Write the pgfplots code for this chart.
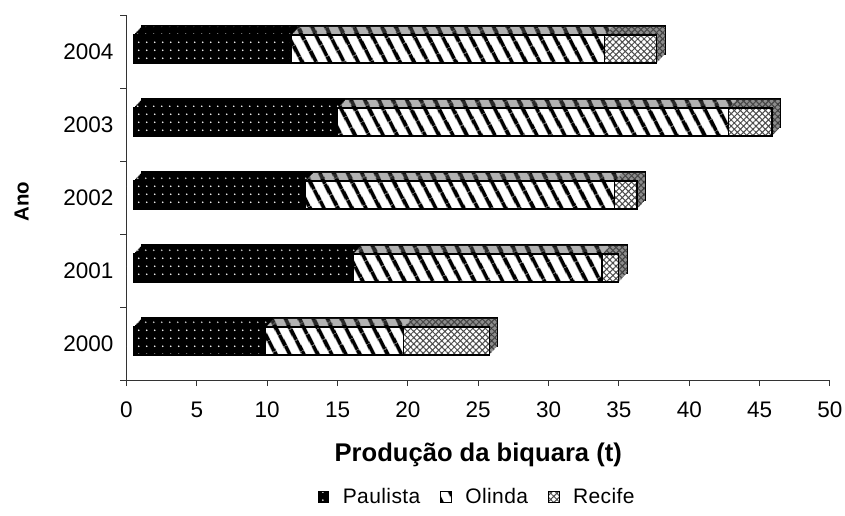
\documentclass[border=0pt]{standalone}
\usepackage{pgfplots}
\pgfplotsset{compat=1.18}
\usepackage{pgfplotstable}
\usepackage{fontspec}
\setmainfont{Liberation Sans}
\usetikzlibrary{patterns,patterns.meta}

% produção da biquara (t) por ano; ano 0 = 2000
\pgfplotstableread{
ano paulista olinda recife
0 9.4 9.8 6.1
1 15.6 17.7 1.2
2 12.2 22.0 1.6
3 14.5 27.8 3.1
4 11.2 22.3 3.7
}\biquara

\tikzset{
  paulista/.style={fill=black, postaction={pattern={Dots[distance=3.85pt,radius=0.45pt]}, pattern color=white}},
  olinda/.style={fill=white, postaction={pattern={Lines[angle=-62,distance=6.4pt,line width=2.1pt]}, pattern color=black}},
  recife/.style={fill=white, postaction={pattern={Hatch[angle=45,distance=2.2pt,line width=0.5pt]}, pattern color=black!70}},
  olindatopo/.style={fill=black!30, postaction={pattern={Lines[angle=-62,distance=6.4pt,line width=2.1pt]}, pattern color=black}},
  recifetopo/.style={fill=black!45, postaction={pattern={Hatch[angle=45,distance=2.2pt,line width=0.5pt]}, pattern color=black!80}},
  borda/.style={draw=none},
}

\pgfplotsset{
  base/.style={
    width=351.75pt, height=182.5pt, scale only axis,
    xmin=0, xmax=50, ymin=-0.5, ymax=4.5,
    xbar stacked, bar width=14pt, clip=false,
    anchor=south west,
  },
}

\begin{document}
\begin{tikzpicture}
% profundidade (3D): cópias deslocadas de trás para a frente
\foreach \k in {10,9,...,1} {
  \pgfmathsetmacro\dx{3.4+\k*4.25/10}
  \pgfmathsetmacro\dy{1.25+\k*4.5/10}
  \ifnum\k=10 \tikzset{borda/.style={draw=black,line width=0.6pt}}\fi
  \begin{axis}[base, hide axis, at={(\dx pt,\dy pt)}]
    \addplot[paulista, borda] table[x=paulista,y=ano]{\biquara};
    \addplot[olindatopo, borda] table[x=olinda,y=ano]{\biquara};
    \addplot[recifetopo, borda] table[x=recife,y=ano]{\biquara};
  \end{axis}
}
% faces da frente
\begin{axis}[base, hide axis, at={(3.4pt,1.25pt)}]
  \addplot[paulista, draw=black, line width=0.75pt] table[x=paulista,y=ano]{\biquara};
  \addplot[olinda, draw=black, line width=0.75pt] table[x=olinda,y=ano]{\biquara};
  \addplot[recife, draw=black, line width=0.75pt] table[x=recife,y=ano]{\biquara};
\end{axis}
% eixos
\begin{axis}[base, at={(0pt,0pt)},
  axis x line*=bottom, axis y line*=left,
  axis line style={line width=0.5pt, black!80},
  tick align=outside, major tick length=3pt,
  tick style={black!80, line width=0.5pt},
  xtick={0,5,...,50},
  ytick={-0.5,0.5,...,4.5},
  yticklabels={2000,2001,2002,2003,2004,{}},
  yticklabel style={yshift=18.25pt},
  xticklabel style={yshift=-4.5pt},
  ticklabel style={font=\fontsize{11.25}{13}\selectfont},
  /pgf/number format/assume math mode=true,
  xlabel={Produção da biquara (t)},
  ylabel={Ano},
  every axis x label/.style={at={(axis description cs:0.5,0)}, anchor=center, yshift=-37.5pt,
    font=\fontsize{12.8}{15}\selectfont\bfseries},
  every axis y label/.style={at={(axis description cs:-0.149,0.488)}, anchor=center, rotate=90,
    font=\fontsize{10.2}{12}\selectfont\bfseries},
  legend style={at={(axis description cs:0.5,0)}, anchor=center, yshift=-58.5pt,
    draw=none, fill=none, font=\fontsize{10.5}{12}\selectfont\addfontfeature{LetterSpace=2},
    /tikz/every even column/.append style={column sep=8pt}},
  legend columns=3,
  legend image code/.code={\draw[#1, line width=0.5pt] (0pt,-2.6pt) rectangle (5.2pt,2.6pt);
    \path (10pt,0pt);},
]
  \addlegendimage{paulista, draw=black}
  \addlegendentry{Paulista}
  \addlegendimage{olinda, draw=black}
  \addlegendentry{Olinda}
  \addlegendimage{recife, draw=black}
  \addlegendentry{Recife}
\end{axis}
\pgfresetboundingbox
\useasboundingbox (-63.25pt,-67.5pt) rectangle (359.25pt,190pt);
\end{tikzpicture}
\end{document}
